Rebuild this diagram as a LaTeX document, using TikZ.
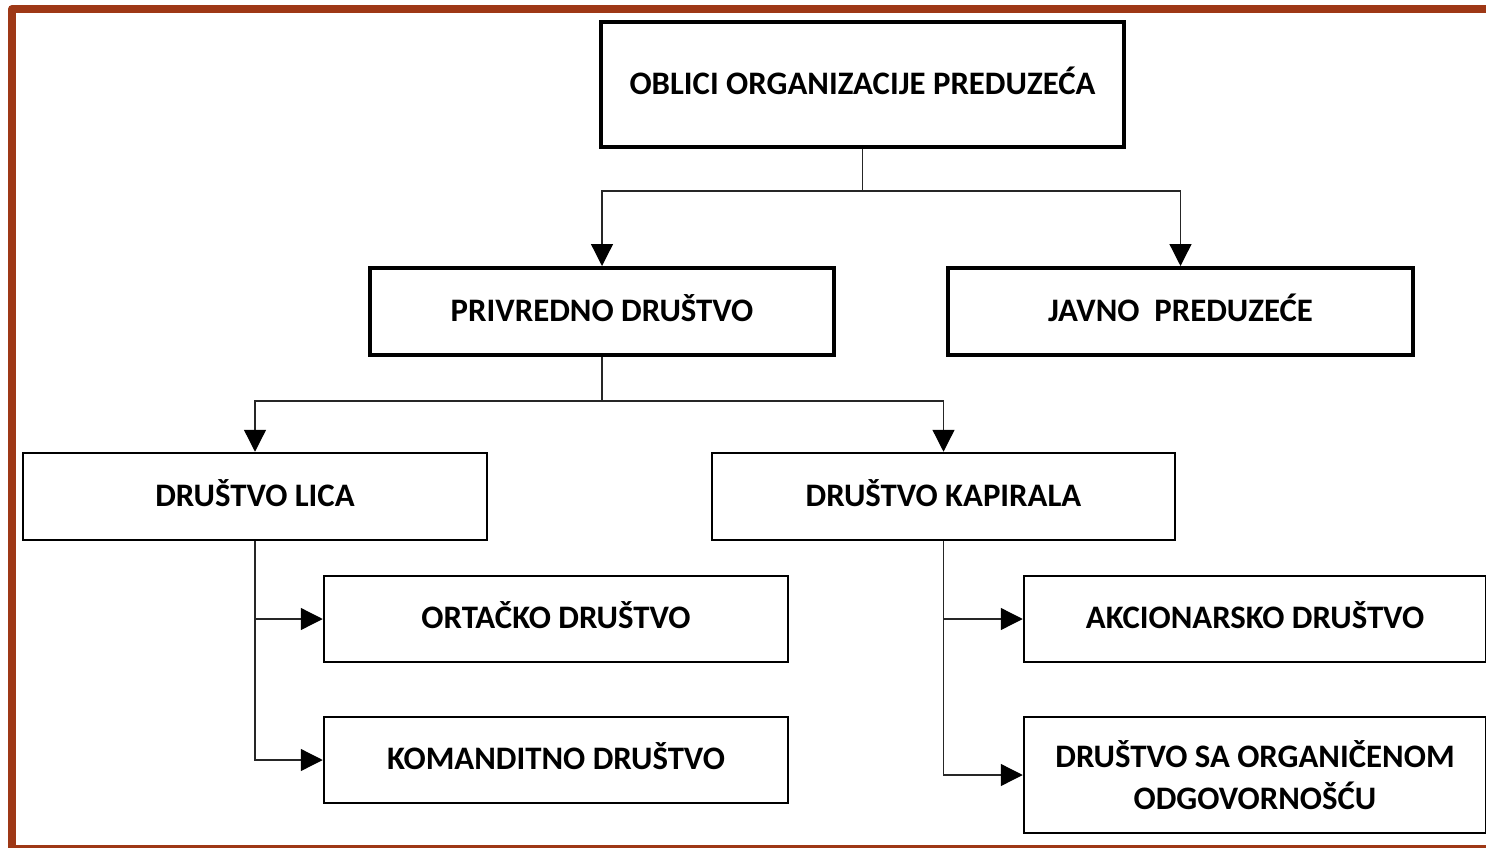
\documentclass[tikz,border=0pt]{standalone}
\usepackage{fontspec}
\setmainfont{Carlito}
\usetikzlibrary{arrows.meta}
\definecolor{brd}{RGB}{158,56,22}
\begin{document}
\begin{tikzpicture}[x=1pt,y=-1pt,
  box/.style={draw=black,rectangle,align=center,inner sep=0pt,
    font=\fontsize{32.8}{42}\selectfont\bfseries},
  one/.style={text height=22pt,text depth=2.5pt},
  thickbox/.style={box,line width=4pt},
  thinbox/.style={box,line width=2.5pt},
  conn/.style={draw=black!85,line width=1.3pt,-{Triangle[length=22pt,width=22pt,fill=black,color=black]}},
  plain/.style={draw=black!85,line width=1.3pt}]
\useasboundingbox (0,0) rectangle (1486,848);
\draw[brd,line width=8pt,line join=round] (12,9) rectangle (1540,849);
\node[thickbox,one,minimum width=523pt,minimum height=125pt] (top) at (862.5,84.5) {OBLICI ORGANIZACIJE PREDUZEĆA};
\node[thickbox,one,minimum width=464pt,minimum height=87pt] (pd) at (602,311.5) {PRIVREDNO DRUŠTVO};
\node[thickbox,one,minimum width=465pt,minimum height=87pt] (jp) at (1180.5,311.5) {JAVNO\ \ PREDUZEĆE};
\node[thinbox,one,minimum width=464pt,minimum height=87pt] (dl) at (255,496.5) {DRUŠTVO LICA};
\node[thinbox,one,minimum width=463pt,minimum height=87pt] (dk) at (943.5,496.5) {DRUŠTVO KAPIRALA};
\node[thinbox,one,minimum width=464pt,minimum height=86pt] (od) at (556,619) {ORTAČKO DRUŠTVO};
\node[thinbox,one,minimum width=464pt,minimum height=86pt] (kd) at (556,760) {KOMANDITNO DRUŠTVO};
\node[thinbox,one,minimum width=462pt,minimum height=86pt] (ad) at (1255,619) {AKCIONARSKO DRUŠTVO};
\node[thinbox,minimum width=462pt,minimum height=116pt] (dso) at (1255,775) {DRUŠTVO SA ORGANIČENOM\\ODGOVORNOŠĆU};
\coordinate (j1) at (862.5,191);
\coordinate (j2) at (602,401);
\draw[plain] (top.south) -- (j1);
\draw[conn] (j1) -| (pd.north);
\draw[conn] (j1) -| (jp.north);
\draw[plain] (pd.south) -- (j2);
\draw[conn] (j2) -| (dl.north);
\draw[conn] (j2) -| (dk.north);
\draw[conn] (dl.south) |- (od.west);
\draw[conn] (dl.south) |- (kd.west);
\draw[conn] (dk.south) |- (ad.west);
\draw[conn] (dk.south) |- (dso.west);
\end{tikzpicture}
\end{document}
